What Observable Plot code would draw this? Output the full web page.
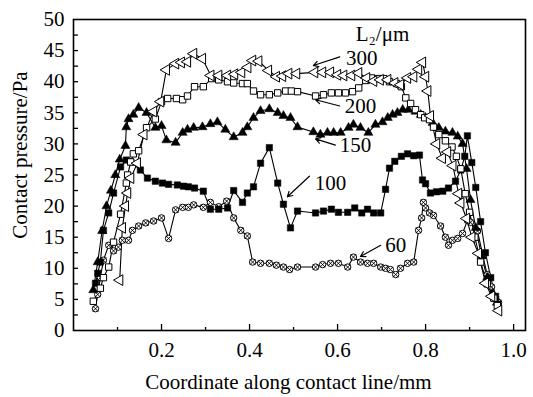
<!DOCTYPE html>
<html>
<head>
<meta charset="utf-8">
<script src="https://cdn.jsdelivr.net/npm/d3@7"></script>
<script src="https://cdn.jsdelivr.net/npm/@observablehq/plot@0.6"></script>
<style>
  html, body { margin: 0; padding: 0; background: #fff; }
  #chart { width: 533px; height: 397px; }
</style>
</head>
<body>
<div id="chart"></div>
<script>
// ---- Data ----
const x300 = [0.105,0.111,0.118,0.123,0.130,0.145,0.160,0.182,0.198,0.211,0.232,0.245,0.259,0.273,0.293,0.312,0.330,0.350,0.366,0.382,0.396,0.407,0.421,0.443,0.461,0.475,0.489,0.507,0.548,0.566,0.584,0.600,0.614,0.632,0.648,0.666,0.682,0.697,0.714,0.730,0.743,0.759,0.773,0.784,0.793,0.800,0.805,0.811,0.825,0.838,0.850,0.862,0.875,0.880,0.893,0.905,0.920,0.936,0.950,0.966];
const y300 = [8.1,16.5,20,22.1,24.5,26.9,31.5,35.2,36.8,41.9,42.9,43.1,43.2,44.5,43.7,41,41,41,41.2,41.5,42.3,43.4,43.3,41.8,40.8,40.9,41.3,41.3,41.5,41.5,41.5,41.1,41,41,41.4,40.6,40.1,40.3,40.3,39.8,39.5,40.6,40.8,42,43.1,40.8,38.5,34.5,30,27.7,28.7,26.5,22,20.5,18,15,12.4,7.6,5.5,3.2];

const x200 = [0.045,0.061,0.068,0.080,0.091,0.107,0.120,0.123,0.130,0.136,0.148,0.166,0.186,0.200,0.214,0.234,0.248,0.259,0.275,0.295,0.314,0.330,0.350,0.364,0.384,0.395,0.409,0.425,0.445,0.464,0.482,0.495,0.509,0.550,0.568,0.586,0.602,0.618,0.634,0.648,0.664,0.677,0.691,0.705,0.718,0.734,0.745,0.755,0.766,0.777,0.789,0.798,0.809,0.818,0.830,0.845,0.860,0.870,0.880,0.890,0.900,0.912,0.925,0.940,0.955,0.963];
const y200 = [4.7,6.8,8.5,10.2,14.2,18.7,23.7,25.0,27.1,28.4,28.9,32.6,34.0,36.8,37.3,37.3,37.1,37.7,39.2,39.2,40.5,40.3,40.0,39.8,39.7,39.7,38.5,37.9,37.9,38.2,38.5,38.5,38.4,37.7,37.9,38.2,38.2,38.2,38.4,39.0,40.2,40.6,40.5,40.5,40.0,39.7,39.2,37.4,36.5,35.5,34.7,34.2,33.9,32.7,31.5,30.5,29.5,28,26,22,19,15,11,7.5,5.2,4];

const x150 = [0.045,0.055,0.065,0.075,0.085,0.095,0.105,0.118,0.120,0.125,0.136,0.148,0.166,0.186,0.200,0.211,0.232,0.248,0.259,0.273,0.293,0.311,0.327,0.345,0.364,0.384,0.395,0.409,0.425,0.445,0.464,0.477,0.493,0.509,0.545,0.561,0.577,0.591,0.607,0.625,0.636,0.652,0.670,0.686,0.702,0.714,0.725,0.736,0.748,0.761,0.777,0.789,0.800,0.816,0.830,0.845,0.861,0.873,0.884,0.893,0.902,0.914,0.927,0.940,0.952,0.962];
const y150 = [6.5,11,16,20,22.5,25,27.5,29.7,32.7,34.0,34.7,35.8,35.0,32.6,32.9,30.6,30.2,31.8,32.3,32.6,32.7,33.2,33.5,32.3,31.1,31.8,32.7,34.2,35.3,35.6,35.0,34.5,34.2,32.7,31.9,31.5,31.8,31.8,31.8,32.6,33.1,32.6,31.8,33.1,33.5,34.2,34.7,35.0,35.5,35.5,35.2,34.7,34.2,33.4,32.6,32.0,31.8,31.2,30,26,21,16.5,12,8.5,6,4.5];

const x100 = [0.050,0.055,0.061,0.068,0.080,0.091,0.107,0.120,0.130,0.152,0.168,0.186,0.202,0.216,0.236,0.250,0.261,0.275,0.295,0.311,0.330,0.350,0.364,0.384,0.395,0.409,0.425,0.445,0.464,0.477,0.493,0.509,0.550,0.568,0.586,0.602,0.623,0.639,0.655,0.668,0.682,0.698,0.709,0.718,0.730,0.745,0.759,0.773,0.786,0.793,0.800,0.811,0.825,0.839,0.852,0.868,0.880,0.889,0.895,0.905,0.914,0.925,0.936,0.948,0.959,0.964];
const y100 = [7.6,9.2,11.0,16.1,18.9,22.1,26.3,27.4,27.1,25.8,24.5,24.0,23.7,23.5,23.4,23.2,23.1,22.9,22.4,19.5,19.5,19.7,22.5,20.6,22.1,23.1,26.9,29.4,23.7,20.3,16.5,19.2,18.9,19.2,19.5,19.0,19.0,19.7,18.9,19.5,18.9,18.9,22.7,26.1,27.2,28.0,28.4,28.1,28.2,24.2,23.6,22.1,22.3,22.4,22.9,24.0,25.8,28.0,31.3,27.0,23.0,17.5,12.5,8.5,5.5,4.2];

const x60 = [0.050,0.055,0.061,0.068,0.080,0.091,0.102,0.111,0.125,0.134,0.148,0.164,0.182,0.200,0.216,0.232,0.248,0.261,0.273,0.295,0.311,0.330,0.348,0.364,0.380,0.395,0.407,0.425,0.445,0.461,0.477,0.491,0.509,0.550,0.566,0.584,0.602,0.623,0.636,0.652,0.668,0.682,0.698,0.709,0.720,0.732,0.743,0.759,0.773,0.784,0.791,0.795,0.800,0.809,0.818,0.834,0.845,0.852,0.861,0.873,0.884,0.895,0.902,0.918,0.930,0.940,0.950,0.960,0.966];
const y60 = [3.5,5.8,8.5,11.3,13.7,12.8,13.4,14.5,14.5,16.1,16.8,17.3,17.6,18.1,14.8,19.4,19.8,19.8,20.2,19.8,20.6,19.9,20.8,18.1,16.1,15.2,11.0,10.8,10.8,10.5,10.2,9.8,10.2,10.2,10.6,10.8,10.8,10.2,11.8,11.0,10.8,10.8,10.2,10.0,9.8,9.0,10.0,10.8,11.0,16.1,18.1,20.6,19.7,18.9,18.5,16.8,15.0,13.7,14.5,14.8,15.6,17.7,17.4,16,12,9,7,5,4.5];

// Tick values
const yTickLabels = [0,5,10,15,20,25,30,35,40,45,50];
const yTickMarks = [2.5,5,7.5,10,12.5,15,17.5,20,22.5,25,27.5,30,32.5,35,37.5,40,42.5,45,47.5];
const xTickLabels = [0.2,0.4,0.6,0.8,1.0];
const xMinorTicks = [0.1,0.3,0.5,0.7,0.9];

// Annotations (labels and leader arrows)
const annoText = ["L₂/μm","300","200","150","100","60"];
const annoX = [0.702,0.655,0.652,0.641,0.584,0.732];
const annoY = [47.6,43.7,36.1,29.8,23.7,13.7];
const arrowX1 = [0.605,0.605,0.595,0.536,0.698];
const arrowY1 = [44.0,36.1,29.8,24.8,13.7];
const arrowX2 = [0.545,0.550,0.550,0.486,0.652];
const arrowY2 = [42.6,37.1,30.8,21.5,11.9];

const rows = (xs, ys) => xs.map((x, i) => ({x, y: ys[i]}));
const s300 = rows(x300, y300), s200 = rows(x200, y200), s150 = rows(x150, y150), s100 = rows(x100, y100), s60 = rows(x60, y60);
const anno = annoText.map((t, i) => ({t, x: annoX[i], y: annoY[i]}));
const arrows = arrowX1.map((x1, i) => ({x1, y1: arrowY1[i], x2: arrowX2[i], y2: arrowY2[i]}));

const lineOpts = {x: "x", y: "y", stroke: "black", strokeWidth: 1.1};

const chart = Plot.plot({
  width: 533,
  height: 397,
  marginLeft: 73,
  marginRight: 8,
  marginTop: 19,
  marginBottom: 67,
  x: {domain: [0, 1.027]},
  y: {domain: [0, 50]},
  style: {fontFamily: "'Liberation Serif', 'Times New Roman', serif", fontSize: "21px", color: "black", background: "white"},
  marks: [
    // inward ticks
    Plot.axisY(yTickMarks, {anchor: "left", tickSize: 5, dx: 5, text: null, label: null, strokeWidth: 1.3}),
    Plot.axisY(yTickLabels, {anchor: "left", tickSize: 0, tickPadding: 9, label: null, fontSize: 21}),
    Plot.axisX(xTickLabels, {anchor: "bottom", tickSize: 6, dy: -6, text: null, label: null, strokeWidth: 1.3}),
    Plot.axisX(xMinorTicks, {anchor: "bottom", tickSize: 3, dy: -3, text: null, label: null, strokeWidth: 1.3}),
    Plot.axisX(xTickLabels, {anchor: "bottom", tickSize: 0, tickPadding: 12, label: null, tickFormat: d3.format(".1f"), fontSize: 21}),
    // lines
    Plot.line(s300, lineOpts),
    Plot.line(s200, lineOpts),
    Plot.line(s150, lineOpts),
    Plot.line(s100, lineOpts),
    Plot.line(s60, lineOpts),
    // markers
    Plot.dot(s60, {x: "x", y: "y", symbol: "circle", r: 3.2, fill: "white", stroke: "black", strokeWidth: 1}),
    Plot.dot(s60, {x: "x", y: "y", symbol: "times", r: 2.6, stroke: "black", strokeWidth: 0.9}),
    Plot.dot(s100, {x: "x", y: "y", symbol: "square", r: 3.6, fill: "black", stroke: "black", strokeWidth: 0.5}),
    Plot.dot(s150, {x: "x", y: "y", symbol: "triangle", r: 3.4, fill: "black", stroke: "black", strokeWidth: 0.5}),
    Plot.dot(s200, {x: "x", y: "y", symbol: "square", r: 3.6, fill: "white", stroke: "black", strokeWidth: 1}),
    Plot.dot(s300, {x: "x", y: "y", symbol: "triangle", rotate: -90, r: 4, fill: "white", stroke: "black", strokeWidth: 1}),
    // annotations
    Plot.arrow(arrows, {x1: "x1", y1: "y1", x2: "x2", y2: "y2", stroke: "black", strokeWidth: 1.2, headLength: 7}),
    Plot.text(anno, {x: "x", y: "y", text: "t", fontSize: 21, fill: "black"}),
    // axis titles
    Plot.text(["Coordinate along contact line/mm"], {frameAnchor: "bottom", textAnchor: "middle", dx: -11, dy: 58, fontSize: 21, fill: "black"}),
    Plot.text(["Contact pressure/Pa"], {frameAnchor: "left", textAnchor: "middle", rotate: -90, dx: -53, dy: -20, fontSize: 21, fill: "black"}),
    Plot.frame({stroke: "black", strokeWidth: 1.6})
  ]
});
document.getElementById("chart").appendChild(chart);
</script>
</body>
</html>
